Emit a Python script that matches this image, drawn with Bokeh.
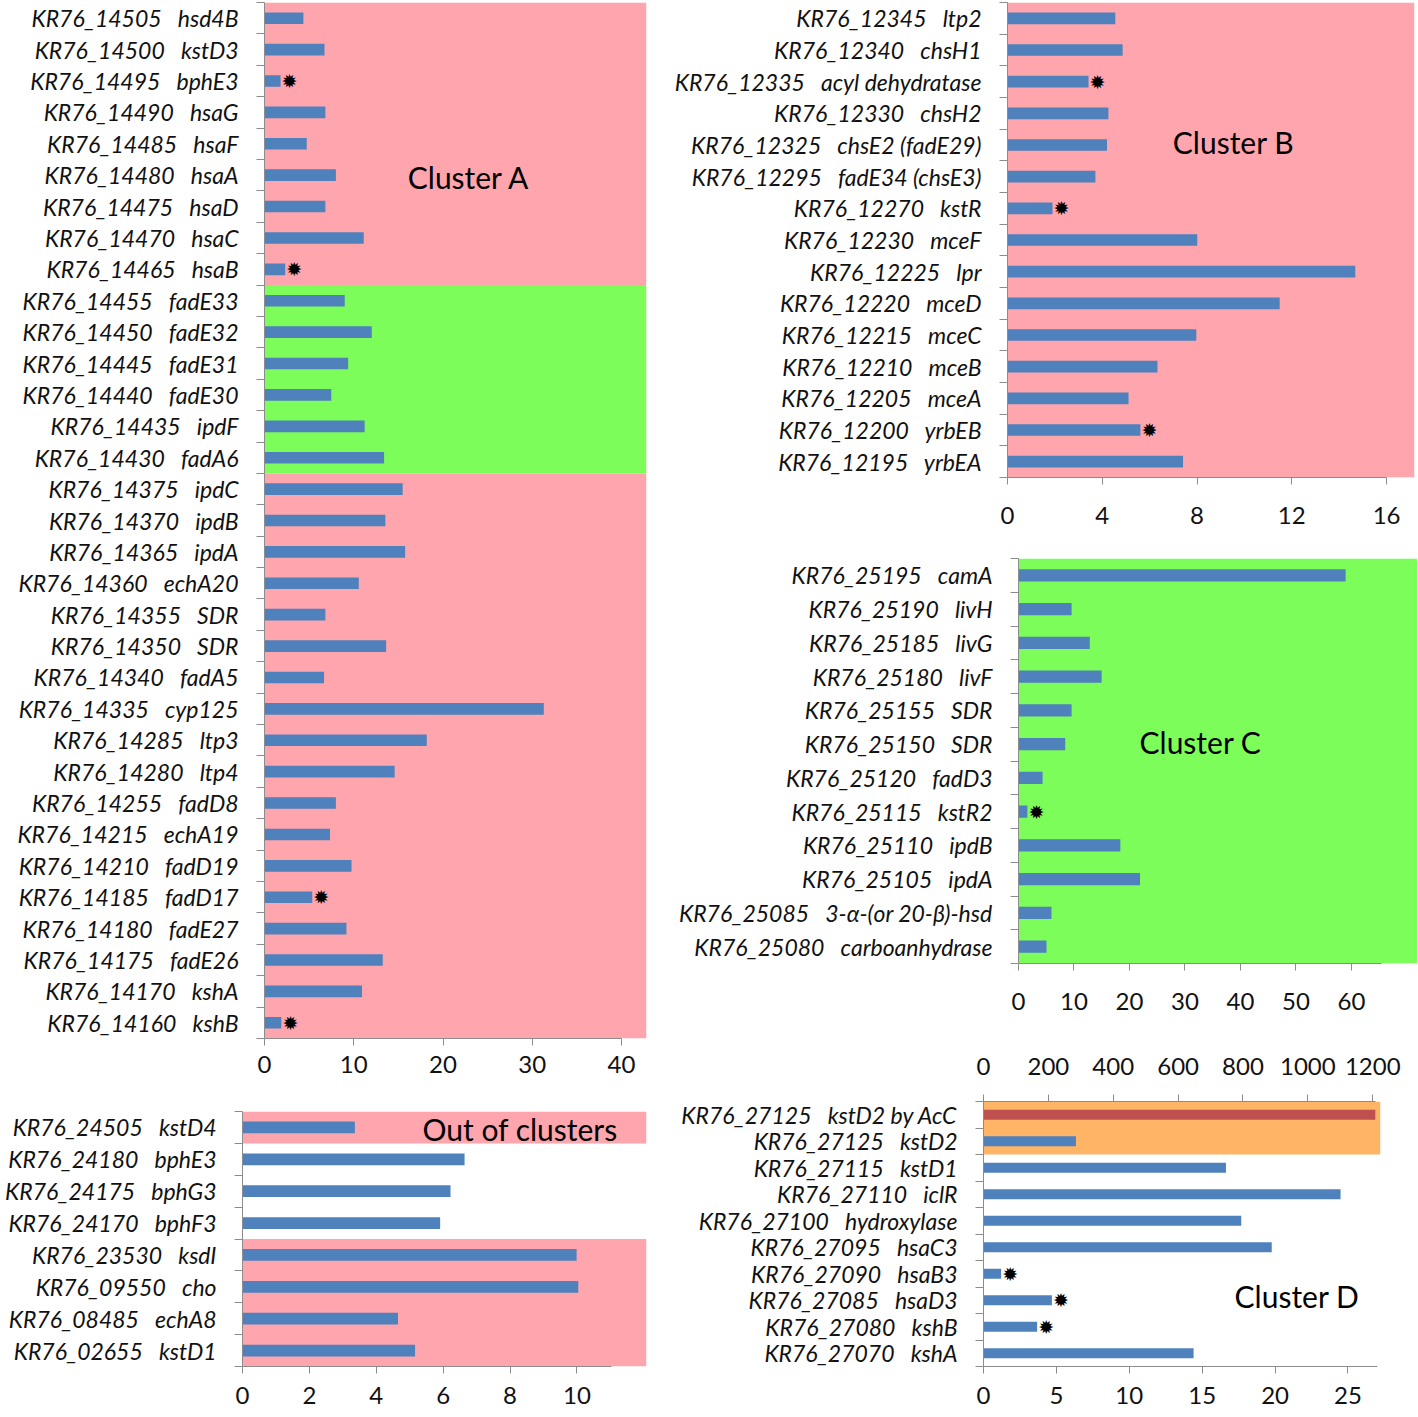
from bokeh.plotting import figure
from bokeh.models import Range1d, FixedTicker, BoxAnnotation, Label, LinearAxis
from bokeh.layouts import row, column
from bokeh.embed import file_html
from bokeh.resources import INLINE
from bokeh.core.properties import value

# ---------------- data ----------------
# Cluster A
a_ids = ["KR76_14505", "KR76_14500", "KR76_14495", "KR76_14490", "KR76_14485", "KR76_14480",
         "KR76_14475", "KR76_14470", "KR76_14465", "KR76_14455", "KR76_14450", "KR76_14445",
         "KR76_14440", "KR76_14435", "KR76_14430", "KR76_14375", "KR76_14370", "KR76_14365",
         "KR76_14360", "KR76_14355", "KR76_14350", "KR76_14340", "KR76_14335", "KR76_14285",
         "KR76_14280", "KR76_14255", "KR76_14215", "KR76_14210", "KR76_14185", "KR76_14180",
         "KR76_14175", "KR76_14170", "KR76_14160"]
a_genes = ["hsd4B", "kstD3", "bphE3", "hsaG", "hsaF", "hsaA", "hsaD", "hsaC", "hsaB",
           "fadE33", "fadE32", "fadE31", "fadE30", "ipdF", "fadA6", "ipdC", "ipdB", "ipdA",
           "echA20", "SDR", "SDR", "fadA5", "cyp125", "ltp3", "ltp4", "fadD8", "echA19",
           "fadD19", "fadD17", "fadE27", "fadE26", "kshA", "kshB"]
a_values = [4.36, 6.72, 1.80, 6.82, 4.73, 8.0, 6.82, 11.12, 2.32,
            8.99, 12.02, 9.37, 7.48, 11.22, 13.4, 15.48, 13.54, 15.76,
            10.56, 6.82, 13.63, 6.67, 31.29, 18.18, 14.58, 8.0, 7.34,
            9.75, 5.35, 9.18, 13.25, 10.93, 1.89]
a_starred = ["bphE3", "hsaB", "fadD17", "kshB"]
a_bands = [(0, 8, "pink"), (9, 14, "green"), (15, 32, "pink")]
a_ticks = [0, 10, 20, 30, 40]

# Cluster B
b_ids = ["KR76_12345", "KR76_12340", "KR76_12335", "KR76_12330", "KR76_12325", "KR76_12295",
         "KR76_12270", "KR76_12230", "KR76_12225", "KR76_12220", "KR76_12215", "KR76_12210",
         "KR76_12205", "KR76_12200", "KR76_12195"]
b_genes = ["ltp2", "chsH1", "acyl dehydratase", "chsH2", "chsE2 (fadE29)", "fadE34 (chsE3)",
           "kstR", "mceF", "lpr", "mceD", "mceC", "mceB", "mceA", "yrbEB", "yrbEA"]
b_values = [4.55, 4.86, 3.42, 4.26, 4.20, 3.71, 1.90, 8.01, 14.68, 11.49, 7.97, 6.33, 5.11, 5.61, 7.41]
b_starred = ["acyl dehydratase", "kstR", "yrbEB"]
b_bands = [(0, 14, "pink")]
b_ticks = [0, 4, 8, 12, 16]

# Cluster C
c_ids = ["KR76_25195", "KR76_25190", "KR76_25185", "KR76_25180", "KR76_25155", "KR76_25150",
         "KR76_25120", "KR76_25115", "KR76_25110", "KR76_25105", "KR76_25085", "KR76_25080"]
c_genes = ["camA", "livH", "livG", "livF", "SDR", "SDR", "fadD3", "kstR2", "ipdB", "ipdA",
           "3-\u03b1-(or 20-\u03b2)-hsd", "carboanhydrase"]
c_values = [58.95, 9.57, 12.85, 14.98, 9.57, 8.42, 4.34, 1.6, 18.35, 21.9, 5.94, 5.05]
c_starred = ["kstR2"]
c_bands = [(0, 11, "green")]
c_ticks = [0, 10, 20, 30, 40, 50, 60]

# Out of clusters
o_ids = ["KR76_24505", "KR76_24180", "KR76_24175", "KR76_24170", "KR76_23530", "KR76_09550",
         "KR76_08485", "KR76_02655"]
o_genes = ["kstD4", "bphE3", "bphG3", "bphF3", "ksdI", "cho", "echA8", "kstD1"]
o_values = [3.36, 6.64, 6.22, 5.91, 9.99, 10.04, 4.65, 5.16]
o_starred = []
o_bands = [(0, 0, "pink"), (4, 7, "pink")]
o_ticks = [0, 2, 4, 6, 8, 10]

# Cluster D
d_ids = ["KR76_27125", "KR76_27125", "KR76_27115", "KR76_27110", "KR76_27100", "KR76_27095",
         "KR76_27090", "KR76_27085", "KR76_27080", "KR76_27070"]
d_genes = ["kstD2 by AcC", "kstD2", "kstD1", "iclR", "hydroxylase", "hsaC3", "hsaB3", "hsaD3",
           "kshB", "kshA"]
d_acc_value = 1208          # kstD2 by AcC, read on the top axis
d_values = [None, 6.34, 16.63, 24.49, 17.68, 19.77, 1.21, 4.69, 3.68, 14.41]
d_starred = ["hsaB3", "hsaD3", "kshB"]
d_bands = [(0, 1, "orange")]
d_ticks = [0, 5, 10, 15, 20, 25]
d_top_ticks = [0, 200, 400, 600, 800, 1000, 1200]

# ---------------- style ----------------
BAR = "#4F81BD"
RED = "#C0504D"
BAND_COLORS = {"pink": "#FFA5AD", "green": "#7DFD59", "orange": "#FFB466"}
AXIS_COL = "#8C8C8C"
LBL_FONT = "Lato"
SP = "\u00a0" * 3


def panel(ids, genes, vals, starred, bands, ticks, width, height, mb_left, mb_right,
          mb_top, mb_bottom, x_end, axis_end, standoff, title, tx, ty):
    n = len(ids)
    ys = [n - 1 - i for i in range(n)]
    labels = [f"{a}{SP}{g}" for a, g in zip(ids, genes)]
    p = figure(width=width, height=height, x_range=Range1d(0, x_end),
               y_range=Range1d(-0.5, n - 0.5), output_backend="svg",
               toolbar_location=None, min_border_left=mb_left, min_border_right=mb_right,
               min_border_top=mb_top, min_border_bottom=mb_bottom)
    p.grid.visible = False
    p.outline_line_color = None
    p.background_fill_color = "white"
    p.border_fill_color = "white"

    for first, last, col in bands:
        p.add_layout(BoxAnnotation(top=ys[first] + 0.5, bottom=ys[last] - 0.5,
                                   fill_color=BAND_COLORS[col], fill_alpha=1.0,
                                   line_color=None, level="underlay"))

    by = [y for y, v in zip(ys, vals) if v is not None]
    bv = [v for v in vals if v is not None]
    p.hbar(y=by, left=0, right=bv, height=0.37, fill_color=BAR, line_color=None)

    sy = [y for y, g, v in zip(ys, genes, vals) if g in starred and v is not None]
    sv = [v for g, v in zip(genes, vals) if g in starred and v is not None]
    if sv:
        p.text(x=sv, y=sy, text=["\u2739"] * len(sv), x_offset=9, text_align="center",
               text_baseline="middle", text_font=value("DejaVu Sans"),
               text_font_size="19px", text_color="black")

    # y axis: labels at centres, ticks at the boundaries
    ya = p.yaxis[0]
    ya.ticker = FixedTicker(ticks=ys, minor_ticks=[k - 0.5 for k in range(n + 1)])
    ya.major_label_overrides = {y: l for y, l in zip(ys, labels)}
    ya.major_tick_out = 0
    ya.major_tick_in = 0
    ya.minor_tick_out = 8
    ya.minor_tick_in = 0
    ya.minor_tick_line_color = AXIS_COL
    ya.axis_line_color = AXIS_COL
    ya.major_label_standoff = 18
    ya.major_label_text_font = LBL_FONT
    ya.major_label_text_font_style = "italic"
    ya.major_label_text_font_size = "23px"
    ya.major_label_text_color = "#111111"

    xa = p.xaxis[0]
    xa.ticker = FixedTicker(ticks=ticks, minor_ticks=[])
    xa.bounds = (0, axis_end)
    xa.major_tick_out = 7
    xa.major_tick_in = 0
    xa.major_tick_line_color = AXIS_COL
    xa.axis_line_color = AXIS_COL
    xa.major_label_standoff = standoff
    xa.major_label_text_font = LBL_FONT
    xa.major_label_text_font_size = "24px"
    xa.major_label_text_color = "#111111"

    p.add_layout(Label(x=tx, y=n - 1 - ty, text=title, text_align="center",
                       text_baseline="middle", text_font=LBL_FONT, text_font_size="30px",
                       text_color="black"))
    return p, ys


pA, _ = panel(a_ids, a_genes, a_values, a_starred, a_bands, a_ticks,
              650, 1088, 264, 4, 2, 50, 42.8, 40, 10, "Cluster A", 22.9, 5.05)
pO, _ = panel(o_ids, o_genes, o_values, o_starred, o_bands, o_ticks,
              650, 328, 242, 4, 23, 50, 12.08, 11.03, 13, "Out of clusters", 8.3, 0.05)
pB, _ = panel(b_ids, b_genes, b_values, b_starred, b_bands, b_ticks,
              767, 540, 357, 3, 2, 63, 17.18, 16, 22, "Cluster B", 9.54, 3.9)
pC, _ = panel(c_ids, c_genes, c_values, c_starred, c_bands, c_ticks,
              767, 505, 368, 0, 18, 82, 71.9, 65.4, 22, "Cluster C", 32.8, 4.93)
pD, dys = panel(d_ids, d_genes, d_values, d_starred, d_bands, d_ticks,
                767, 371, 333, 37, 56, 50, 27.23, 27.0, 13, "Cluster D", 21.5, 6.84)

# top axis of cluster D (kstD2 by AcC)
pD.extra_x_ranges = {"acc": Range1d(0, 1224)}
pD.hbar(y=[dys[0]], left=0, right=[d_acc_value], height=0.37, fill_color=RED,
        line_color=None, x_range_name="acc")
top = LinearAxis(x_range_name="acc", ticker=FixedTicker(ticks=d_top_ticks, minor_ticks=[]))
top.bounds = (0, 1210)
top.major_tick_out = 7
top.major_tick_in = 0
top.major_tick_line_color = AXIS_COL
top.axis_line_color = AXIS_COL
top.major_label_standoff = 20
top.major_label_text_font = LBL_FONT
top.major_label_text_font_size = "24px"
top.major_label_text_color = "#111111"
pD.add_layout(top, "above")

layout = row(column(row(pA), row(pO)), column(row(pB), row(pC), row(pD)))

with open("out.html", "w") as f:
    f.write(file_html(layout, INLINE))
